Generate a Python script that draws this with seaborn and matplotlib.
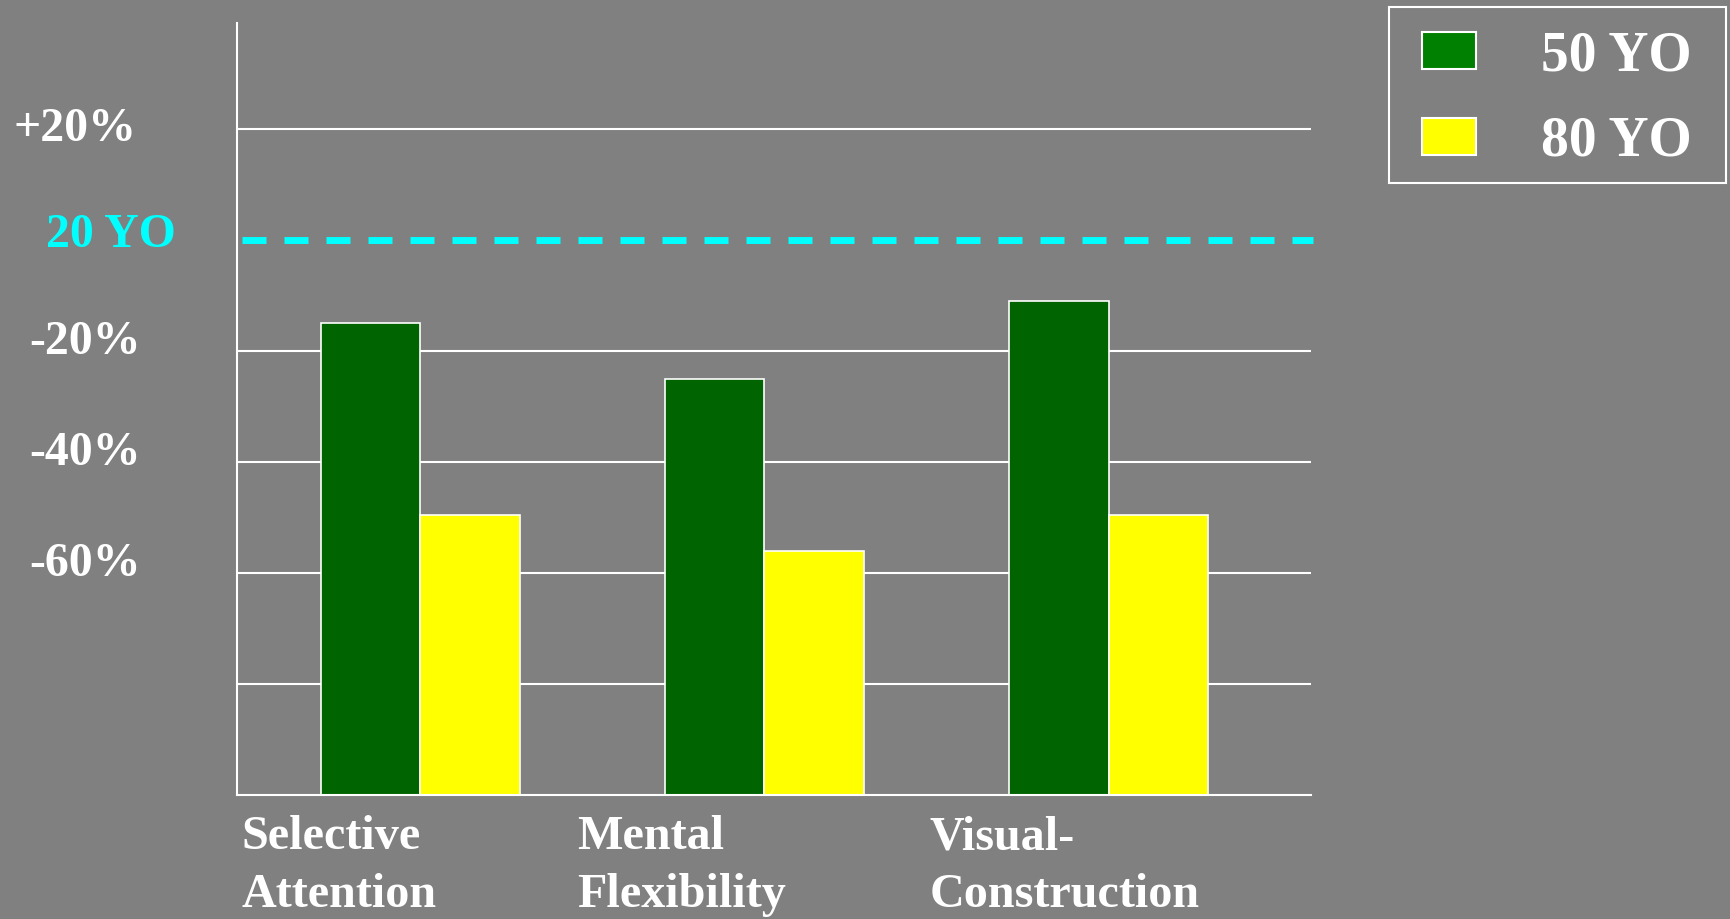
import matplotlib
matplotlib.use("Agg")
import matplotlib.pyplot as plt
from matplotlib.patches import Patch, Rectangle
from matplotlib.legend_handler import HandlerPatch
from matplotlib.transforms import ScaledTranslation
import pandas as pd
import seaborn as sns

# Cognitive performance relative to 20-year-olds (% change)
domains = ["Selective\nAttention", "Mental\nFlexibility", "Visual-\nConstruction"]
groups = ["50 YO", "80 YO"]
change_50 = [-15, -25, -11]
change_80 = [-49.5, -56, -49.5]

reference_level = 100          # 20-year-old performance = 100 %
ytick_levels = [120, 100, 80, 60, 40]
ytick_labels = ["+20%", "20 YO", "-20%", "-40%", "-60%"]
grid_levels = [120, 80, 60, 40, 20]

BG = "#808080"
CYAN = "#00FFFF"
bar_colors = {"50 YO": "#006400", "80 YO": "#FFFF00"}
legend_colors = {"50 YO": "#008000", "80 YO": "#FFFF00"}

df = pd.DataFrame({
    "domain": domains * 2,
    "group": [groups[0]] * len(domains) + [groups[1]] * len(domains),
    "level": [reference_level + c for c in change_50 + change_80],
})

sns.set_style("white")
plt.rcParams["font.family"] = ["Liberation Serif", "DejaVu Serif"]
plt.rcParams["font.weight"] = "bold"

W, H = 1731, 919
fig = plt.figure(figsize=(W / 100, H / 100), dpi=100, facecolor=BG)
ax = fig.add_axes([237 / W, 124 / H, 1074 / W, 772 / H])
ax.set_facecolor(BG)

# horizontal reference grid behind the bars
for lvl in grid_levels:
    ax.axhline(lvl, color="white", lw=1.5, zorder=0.5)

sns.barplot(data=df, x="domain", y="level", hue="group",
            order=domains, hue_order=groups, palette=bar_colors,
            saturation=1, width=0.578, gap=0, errorbar=None,
            edgecolor="white", linewidth=1.2, legend=False, ax=ax)

# 20-year-old baseline
ax.axhline(reference_level, color=CYAN, lw=5, dashes=(3.456, 2.592),
           xmin=0.005, xmax=1.002, zorder=3, clip_on=False)

ax.set_xlim(-0.532, 2.588)
ax.set_ylim(0, 139.1)
ax.set_xlabel("")
ax.set_ylabel("")

for side in ("top", "right"):
    ax.spines[side].set_visible(False)
for side in ("left", "bottom"):
    ax.spines[side].set_color("white")
    ax.spines[side].set_linewidth(1.5)

ax.tick_params(axis="both", length=0, colors="white")
ax.tick_params(axis="x", pad=14.4, labelsize=34.7)
ax.tick_params(axis="y", pad=71, labelsize=34.5)

# category labels, left-aligned under each group
ax.set_xticks(range(len(domains)))
ax.set_xticklabels(domains, ha="left", linespacing=1.42)
x_shift = {"Mental\nFlexibility": -1.87}
for lab in ax.get_xticklabels():
    dx = x_shift.get(lab.get_text(), -1.79)
    lab.set_transform(lab.get_transform() + ScaledTranslation(dx, 0, fig.dpi_scale_trans))

ax.set_yticks(ytick_levels)
ax.set_yticklabels(ytick_labels)
y_shift = {"+20%": (-0.02, 0.05), "20 YO": (0.37, 0.10)}
for lab in ax.get_yticklabels():
    txt = lab.get_text()
    dx, dy = y_shift.get(txt, (0.02, 0.14))
    lab.set_transform(lab.get_transform() + ScaledTranslation(dx, dy, fig.dpi_scale_trans))
    if txt == "20 YO":
        lab.set_color(CYAN)


def inset_patch(legend, orig_handle, xdescent, ydescent, width, height, fontsize):
    pw = fontsize * 0.975
    return Rectangle((-xdescent + width - pw, -ydescent), pw, height)


# legend entries, and a plain white box around them
legend_box = (1389 / W, 1 - 183 / H, 337 / W, 176 / H)
fig.patches.append(Rectangle(legend_box[:2], legend_box[2], legend_box[3],
                             transform=fig.transFigure, fill=False,
                             edgecolor="white", linewidth=1.5, zorder=5))

handles = [Patch(facecolor=legend_colors[g], edgecolor="white", linewidth=1.5) for g in groups]
leg = fig.legend(handles, groups, loc="upper left",
                 bbox_to_anchor=(legend_box[0], legend_box[1] + legend_box[3]),
                 bbox_transform=fig.transFigure, borderaxespad=0,
                 prop={"family": "Liberation Serif", "weight": "bold", "size": 40},
                 labelcolor="white", frameon=False,
                 borderpad=0.42, handlelength=1.15, handleheight=0.64,
                 handletextpad=1.17, labelspacing=0.6,
                 handler_map={Patch: HandlerPatch(patch_func=inset_patch)})

fig.savefig("out.png", dpi=100, facecolor=BG)
